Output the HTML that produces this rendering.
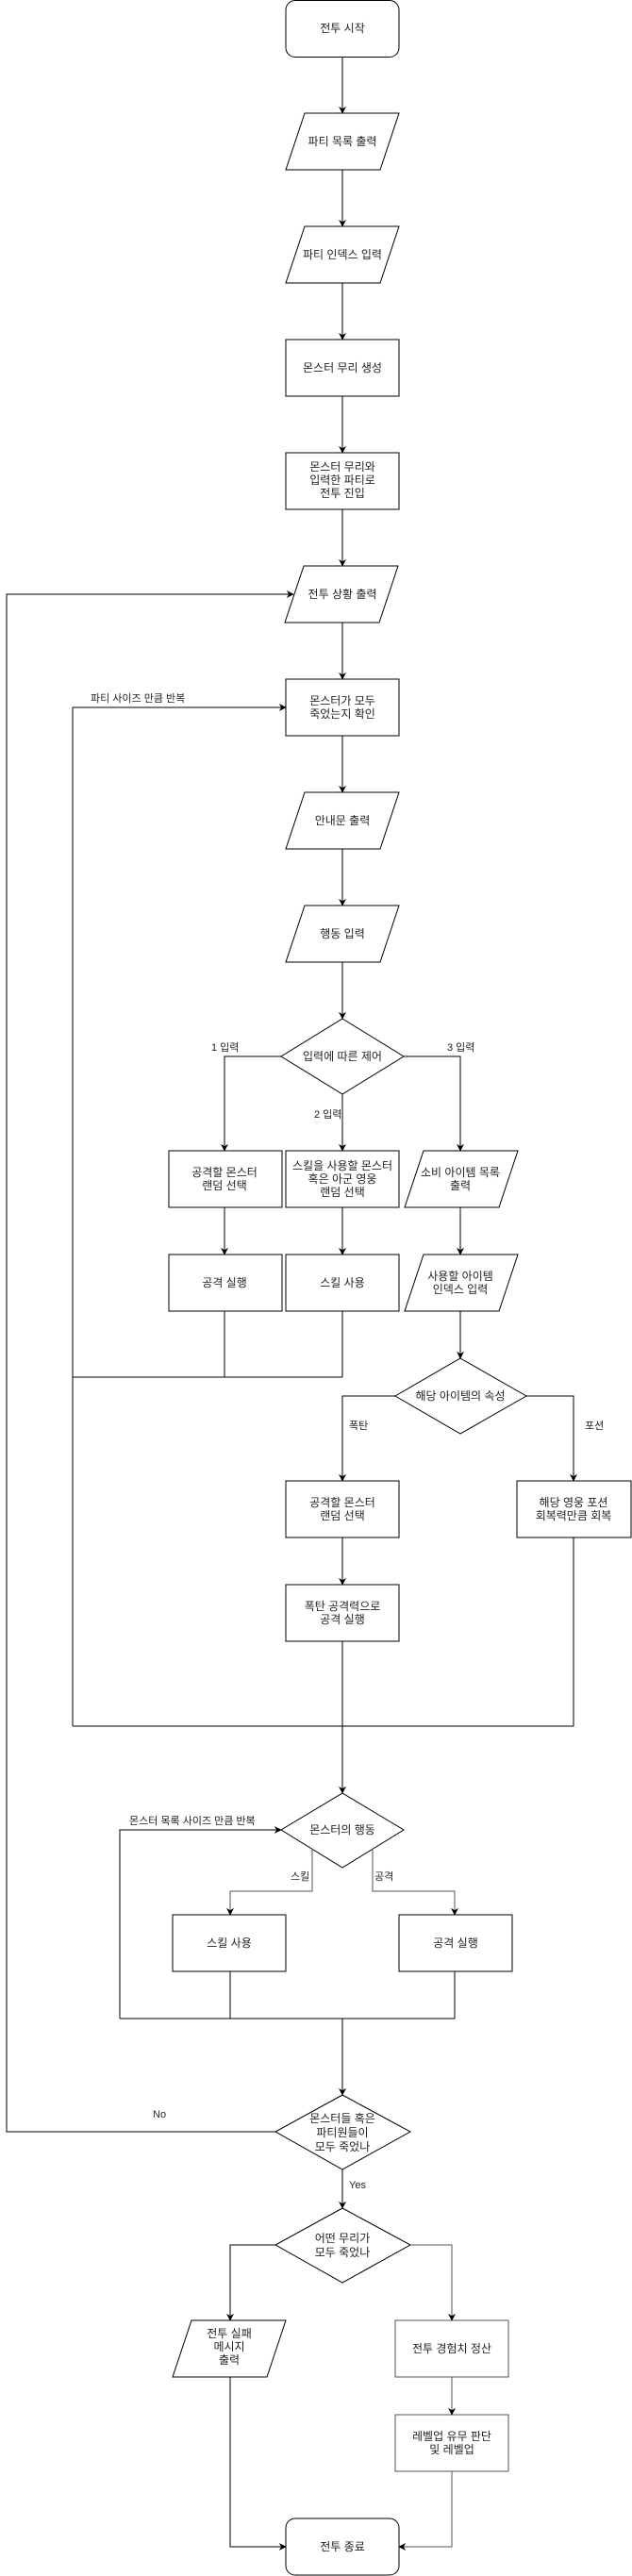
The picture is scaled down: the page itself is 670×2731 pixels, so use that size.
<!DOCTYPE html>
<html><head><meta charset="utf-8"><style>
html,body{margin:0;padding:0;background:#fff;}
svg{display:block;}
text{font-family:"Liberation Sans","Noto Sans CJK KR","NanumGothic",sans-serif;font-size:12px;fill:#222;text-anchor:middle;}
.l{text-anchor:start;font-size:11px;}
</style></head><body>
<svg width="670" height="2731" viewBox="0 0 670 2731" xmlns="http://www.w3.org/2000/svg">
<defs><marker id="a" viewBox="0 0 10 10" refX="9" refY="5" markerWidth="8" markerHeight="8" orient="auto" markerUnits="userSpaceOnUse"><path d="M0,0 L10,5 L0,10 L3,5 z" fill="#000"/></marker></defs>
<g fill="#fff" stroke="#000" stroke-width="1">
<rect x="303" y="0.5" width="120" height="60" rx="10"/>
<polygon points="323,120 423,120 403,180 303,180"/>
<polygon points="323,240 423,240 403,300 303,300"/>
<rect x="303" y="360" width="120" height="60"/>
<rect x="303" y="480" width="120" height="60"/>
<polygon points="322,600 422,600 402,660 302,660"/>
<rect x="303" y="720" width="120" height="60"/>
<polygon points="323,840 423,840 403,900 303,900"/>
<polygon points="323,960 423,960 403,1020 303,1020"/>
<polygon points="363,1080 428,1120 363,1160 298,1120"/>
<rect x="179" y="1220" width="120" height="60"/>
<rect x="303" y="1220" width="120" height="60"/>
<polygon points="449,1220 549,1220 529,1280 429,1280"/>
<rect x="179" y="1330" width="120" height="60"/>
<rect x="303" y="1330" width="120" height="60"/>
<polygon points="449,1330 549,1330 529,1390 429,1390"/>
<polygon points="488,1440 558,1480 488,1520 419,1480"/>
<rect x="303" y="1570" width="120" height="60"/>
<rect x="548" y="1570" width="121" height="60"/>
<rect x="303" y="1680" width="120" height="60"/>
<polygon points="363,1901 428,1940 363,1980 298,1940"/>
<rect x="183" y="2030" width="120" height="60"/>
<rect x="423" y="2030" width="120" height="60"/>
<polygon points="363,2221 435,2260 363,2300 292,2260"/>
<polygon points="363,2341 435,2380 363,2420 292,2380"/>
<polygon points="203,2460 303,2460 283,2520 183,2520"/>
<rect x="419" y="2460" width="120" height="60" stroke="#555"/>
<rect x="419" y="2560" width="120" height="60" stroke="#555"/>
<rect x="303" y="2670" width="120" height="60" rx="10"/>
</g>
<g fill="none" stroke="#000" stroke-width="1">
<path d="M363,60V120" marker-end="url(#a)"/>
<path d="M363,180V240" marker-end="url(#a)"/>
<path d="M363,300V360" marker-end="url(#a)"/>
<path d="M363,420V480" marker-end="url(#a)"/>
<path d="M363,540V600" marker-end="url(#a)"/>
<path d="M363,660V720" marker-end="url(#a)"/>
<path d="M363,780V840" marker-end="url(#a)"/>
<path d="M363,900V960" marker-end="url(#a)"/>
<path d="M363,1020V1080" marker-end="url(#a)"/>
<path d="M292,2260H7V630H311" marker-end="url(#a)"/>
<path d="M77,1830V750H303" marker-end="url(#a)"/>
<path d="M77,1460H363M238,1390V1460M363,1390V1460"/>
<path d="M298,1120H238V1220" marker-end="url(#a)"/>
<path d="M428,1120H488V1220" marker-end="url(#a)"/>
<path d="M363,1160V1220" marker-end="url(#a)"/>
<path d="M238,1280V1330" marker-end="url(#a)"/>
<path d="M363,1280V1330" marker-end="url(#a)"/>
<path d="M488,1280V1330" marker-end="url(#a)"/>
<path d="M488,1390V1440" marker-end="url(#a)"/>
<path d="M419,1480H363V1570" marker-end="url(#a)"/>
<path d="M558,1480H608V1570" marker-end="url(#a)"/>
<path d="M363,1630V1680" marker-end="url(#a)"/>
<path d="M608,1630V1830H77"/>
<path d="M363,1740V1901" marker-end="url(#a)"/>
<path d="M127,2140V1940H298" marker-end="url(#a)"/>
<path d="M331,1960V2005H244V2030" stroke="#555" marker-end="url(#a)"/>
<path d="M395,1960V2005H482V2030" stroke="#555" marker-end="url(#a)"/>
<path d="M127,2140H482M244,2090V2140M482,2090V2140"/>
<path d="M363,2140V2221" marker-end="url(#a)"/>
<path d="M363,2300V2341" marker-end="url(#a)"/>
<path d="M292,2380H244V2460" marker-end="url(#a)"/>
<path d="M435,2380H479V2460" stroke="#555" marker-end="url(#a)"/>
<path d="M479,2520V2560" stroke="#555" marker-end="url(#a)"/>
<path d="M244,2520V2700H303" marker-end="url(#a)"/>
<path d="M479,2620V2700H423" stroke="#555" marker-end="url(#a)"/>
</g>
<text x="363" y="34">전투 시작</text>
<text x="363" y="154">파티 목록 출력</text>
<text x="363" y="274">파티 인덱스 입력</text>
<text x="363" y="394">몬스터 무리 생성</text>
<text x="363" y="499">몬스터 무리와</text>
<text x="363" y="513">입력한 파티로</text>
<text x="363" y="527">전투 진입</text>
<text x="363" y="634">전투 상황 출력</text>
<text x="363" y="747">몬스터가 모두</text>
<text x="363" y="761">죽었는지 확인</text>
<text x="363" y="874">안내문 출력</text>
<text x="363" y="994">행동 입력</text>
<text x="363" y="1124">입력에 따른 제어</text>
<text x="238" y="1247">공격할 몬스터</text>
<text x="238" y="1261">랜덤 선택</text>
<text x="363" y="1240">스킬을 사용할 몬스터</text>
<text x="363" y="1254">혹은 아군 영웅</text>
<text x="363" y="1268">랜덤 선택</text>
<text x="488" y="1247">소비 아이템 목록</text>
<text x="488" y="1261">출력</text>
<text x="238" y="1364">공격 실행</text>
<text x="363" y="1364">스킬 사용</text>
<text x="488" y="1357">사용할 아이템</text>
<text x="488" y="1371">인덱스 입력</text>
<text x="488" y="1484">해당 아이템의 속성</text>
<text x="363" y="1597">공격할 몬스터</text>
<text x="363" y="1611">랜덤 선택</text>
<text x="608" y="1597">해당 영웅 포션</text>
<text x="608" y="1611">회복력만큼 회복</text>
<text x="363" y="1707">폭탄 공격력으로</text>
<text x="363" y="1721">공격 실행</text>
<text x="363" y="1944">몬스터의 행동</text>
<text x="243" y="2064">스킬 사용</text>
<text x="483" y="2064">공격 실행</text>
<text x="363" y="2250">몬스터들 혹은</text>
<text x="363" y="2265">파티원들이</text>
<text x="363" y="2280">모두 죽었나</text>
<text x="363" y="2377">어떤 무리가</text>
<text x="363" y="2392">모두 죽었나</text>
<text x="243" y="2478">전투 실패</text>
<text x="243" y="2492">메시지</text>
<text x="243" y="2506">출력</text>
<text x="479" y="2494">전투 경험치 정산</text>
<text x="479" y="2587">레벨업 유무 판단</text>
<text x="479" y="2601">및 레벨업</text>
<text x="363" y="2704">전투 종료</text>
<text class="l" x="96" y="744">파티 사이즈 만큼 반복</text>
<text class="l" x="224" y="1114">1 입력</text>
<text class="l" x="474" y="1114">3 입력</text>
<text class="l" x="333" y="1185">2 입력</text>
<text class="l" x="370" y="1515">폭탄</text>
<text class="l" x="620" y="1515">포션</text>
<text class="l" x="137" y="1934">몬스터 목록 사이즈 만큼 반복</text>
<text class="l" x="308" y="1993">스킬</text>
<text class="l" x="397" y="1993">공격</text>
<text class="l" x="162" y="2245">No</text>
<text class="l" x="370" y="2320">Yes</text>
</svg>
</body></html>
